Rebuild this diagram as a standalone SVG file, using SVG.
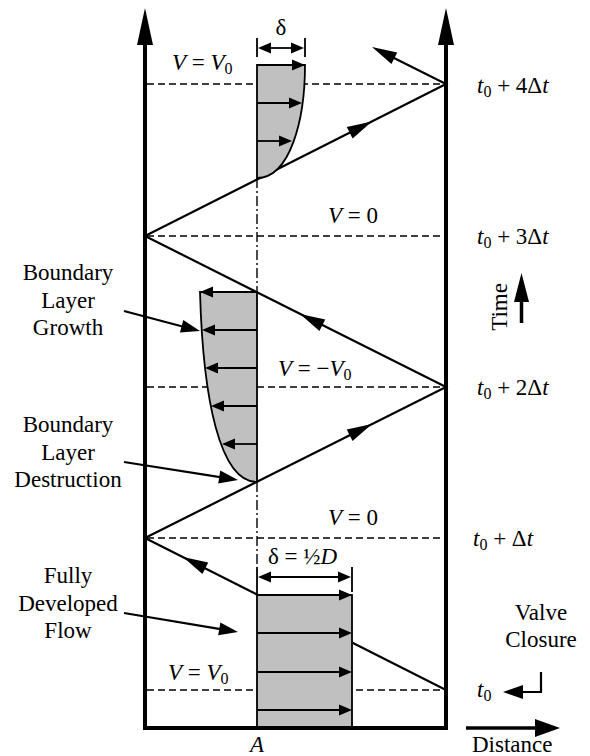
<svg xmlns="http://www.w3.org/2000/svg" width="590" height="756" viewBox="0 0 590 756">
<style>
text{font-size:23px;fill:#000}
.i{font-style:italic}
.wall{stroke:#000;stroke-width:4;fill:none}
.dash{stroke:#000;stroke-width:1.6;stroke-dasharray:7,4;fill:none}
.dd{stroke:#000;stroke-width:1.4;stroke-dasharray:10,3,2,3;fill:none}
.ln{stroke:#000;stroke-width:2.2;fill:none}
.thin{stroke:#000;stroke-width:1.8;fill:none}
.prof{fill:#c0c0c0;stroke:#000;stroke-width:1.8}
</style>
<defs>
<polygon id="big" points="0,0 -25,-6.5 -25,6.5"/>
<polygon id="small" points="0,0 -13,-5.5 -13,5.5"/>
<polygon id="lead" points="0,0 -19,-6.5 -19,6.5"/>
</defs>
<rect width="590" height="756" fill="#fff"/>
<g font-family="Liberation Serif, DejaVu Serif, serif">

<g id="time-levels">
<line class="dash" x1="147" y1="84" x2="444" y2="84"/>
<line class="dash" x1="147" y1="236" x2="444" y2="236"/>
<line class="dash" x1="147" y1="387" x2="444" y2="387"/>
<line class="dash" x1="147" y1="538" x2="444" y2="538"/>
<line class="dash" x1="147" y1="690" x2="444" y2="690"/>
</g>

<g id="centerline">
<line class="dd" x1="257" y1="178" x2="257" y2="292"/>
<line class="dd" x1="257" y1="482" x2="257" y2="567"/>
</g>

<g id="connectors">
<polyline class="ln" points="446,690 145,538 446,387 145,236 446,84 380,51"/>
<use href="#big" transform="translate(183,557) rotate(206.8)"/>
<use href="#big" transform="translate(372,424) rotate(-26.6)"/>
<use href="#big" transform="translate(300,314) rotate(206.6)"/>
<use href="#big" transform="translate(372,121.5) rotate(-26.8)"/>
<use href="#big" transform="translate(372,47) rotate(206.6)"/>
<line class="ln" x1="124" y1="311" x2="190" y2="328.5"/>
<use href="#lead" transform="translate(200,331) rotate(14.7)"/>
<line class="ln" x1="124" y1="462" x2="228" y2="478.4"/>
<use href="#lead" transform="translate(238,480) rotate(9)"/>
<line class="ln" x1="124" y1="613" x2="228" y2="630.3"/>
<use href="#lead" transform="translate(238,632) rotate(9.5)"/>
</g>

<g id="profile-top">
<path class="prof" d="M257,65 L305,65 C305,120 290,178 257,178 Z"/>
<line class="thin" x1="257" y1="65" x2="295" y2="65"/><use href="#small" transform="translate(305,65)"/>
<line class="thin" x1="257" y1="103" x2="292" y2="103"/><use href="#small" transform="translate(302,103)"/>
<line class="thin" x1="257" y1="141" x2="282" y2="141"/><use href="#small" transform="translate(292,141)"/>
<line class="thin" x1="257" y1="38" x2="257" y2="57"/>
<line class="thin" x1="305" y1="38" x2="305" y2="57"/>
<line class="thin" x1="265" y1="48" x2="297" y2="48"/>
<use href="#small" transform="translate(258,48) rotate(180)"/>
<use href="#small" transform="translate(304,48)"/>
<text x="281" y="35" text-anchor="middle">δ</text>
</g>

<g id="profile-middle">
<path class="prof" d="M257,292 L200,292 C203,400 220,482 257,482 Z"/>
<line class="thin" x1="257" y1="292" x2="210" y2="292"/><use href="#small" transform="translate(200,292) rotate(180)"/>
<line class="thin" x1="257" y1="330" x2="212" y2="330"/><use href="#small" transform="translate(202,330) rotate(180)"/>
<line class="thin" x1="257" y1="368" x2="215" y2="368"/><use href="#small" transform="translate(205,368) rotate(180)"/>
<line class="thin" x1="257" y1="406" x2="221" y2="406"/><use href="#small" transform="translate(211,406) rotate(180)"/>
<line class="thin" x1="257" y1="444" x2="232" y2="444"/><use href="#small" transform="translate(222,444) rotate(180)"/>
</g>

<g id="profile-bottom">
<rect class="prof" x="257" y="595" width="95" height="133"/>
<line class="thin" x1="257" y1="595" x2="342" y2="595"/><use href="#small" transform="translate(352,595)"/>
<line class="thin" x1="257" y1="633" x2="342" y2="633"/><use href="#small" transform="translate(352,633)"/>
<line class="thin" x1="257" y1="672" x2="342" y2="672"/><use href="#small" transform="translate(352,672)"/>
<line class="thin" x1="257" y1="710" x2="342" y2="710"/><use href="#small" transform="translate(352,710)"/>
<line class="thin" x1="257" y1="567" x2="257" y2="595"/>
<line class="thin" x1="352" y1="567" x2="352" y2="592"/>
<line class="thin" x1="265" y1="577" x2="344" y2="577"/>
<use href="#small" transform="translate(258,577) rotate(180)"/>
<use href="#small" transform="translate(351,577)"/>
<text x="268" y="564">δ = ½<tspan class="i">D</tspan></text>
</g>

<g id="pipe">
<line class="wall" x1="145" y1="40" x2="145" y2="730"/>
<line class="wall" x1="446" y1="40" x2="446" y2="730"/>
<line class="wall" x1="143" y1="728" x2="448" y2="728"/>
<polygon points="145,8 137,45 153,45"/>
<polygon points="446,8 438,45 454,45"/>
</g>

<g id="velocity-labels">
<text x="172" y="70"><tspan class="i">V</tspan> = <tspan class="i">V</tspan><tspan font-size="16" dy="4">0</tspan></text>
<text x="328" y="223"><tspan class="i">V</tspan> = 0</text>
<text x="278" y="376"><tspan class="i">V</tspan> = −<tspan class="i">V</tspan><tspan font-size="16" dy="4">0</tspan></text>
<text x="328" y="525"><tspan class="i">V</tspan> = 0</text>
<text x="168" y="680"><tspan class="i">V</tspan> = <tspan class="i">V</tspan><tspan font-size="16" dy="4">0</tspan></text>
<text x="257" y="752" text-anchor="middle" class="i">A</text>
</g>

<g id="time-labels">
<text x="477" y="93"><tspan class="i">t</tspan><tspan font-size="16" dy="4">0</tspan><tspan dy="-4"> + 4Δ</tspan><tspan class="i">t</tspan></text>
<text x="477" y="244"><tspan class="i">t</tspan><tspan font-size="16" dy="4">0</tspan><tspan dy="-4"> + 3Δ</tspan><tspan class="i">t</tspan></text>
<text x="477" y="395"><tspan class="i">t</tspan><tspan font-size="16" dy="4">0</tspan><tspan dy="-4"> + 2Δ</tspan><tspan class="i">t</tspan></text>
<text x="473" y="546"><tspan class="i">t</tspan><tspan font-size="16" dy="4">0</tspan><tspan dy="-4"> + Δ</tspan><tspan class="i">t</tspan></text>
<text x="477" y="697"><tspan class="i">t</tspan><tspan font-size="16" dy="4">0</tspan></text>
</g>

<g id="time-axis">
<line x1="521.5" y1="323" x2="521.5" y2="298" stroke="#000" stroke-width="3.5"/>
<polygon points="521.5,273 514,302 529,302"/>
<text transform="translate(507,307) rotate(-90)" text-anchor="middle">Time</text>
</g>

<g id="valve-closure">
<text x="541" y="620" text-anchor="middle">Valve</text>
<text x="541" y="647" text-anchor="middle">Closure</text>
<polyline class="ln" points="541,672 541,692 520,692"/>
<polygon points="503,692 523,685 523,699"/>
</g>

<g id="distance-axis">
<line x1="466" y1="728" x2="537" y2="728" stroke="#000" stroke-width="3.5"/>
<polygon points="560,728 535,719 535,737"/>
<text x="472" y="752">Distance</text>
</g>

<g id="label-growth">
<text x="68" y="280" text-anchor="middle">Boundary</text>
<text x="68" y="308" text-anchor="middle">Layer</text>
<text x="68" y="335" text-anchor="middle">Growth</text>
</g>
<g id="label-destruction">
<text x="68" y="432" text-anchor="middle">Boundary</text>
<text x="68" y="460" text-anchor="middle">Layer</text>
<text x="68" y="487" text-anchor="middle">Destruction</text>
</g>
<g id="label-developed">
<text x="68" y="583" text-anchor="middle">Fully</text>
<text x="68" y="611" text-anchor="middle">Developed</text>
<text x="68" y="638" text-anchor="middle">Flow</text>
</g>
</g>
</svg>
